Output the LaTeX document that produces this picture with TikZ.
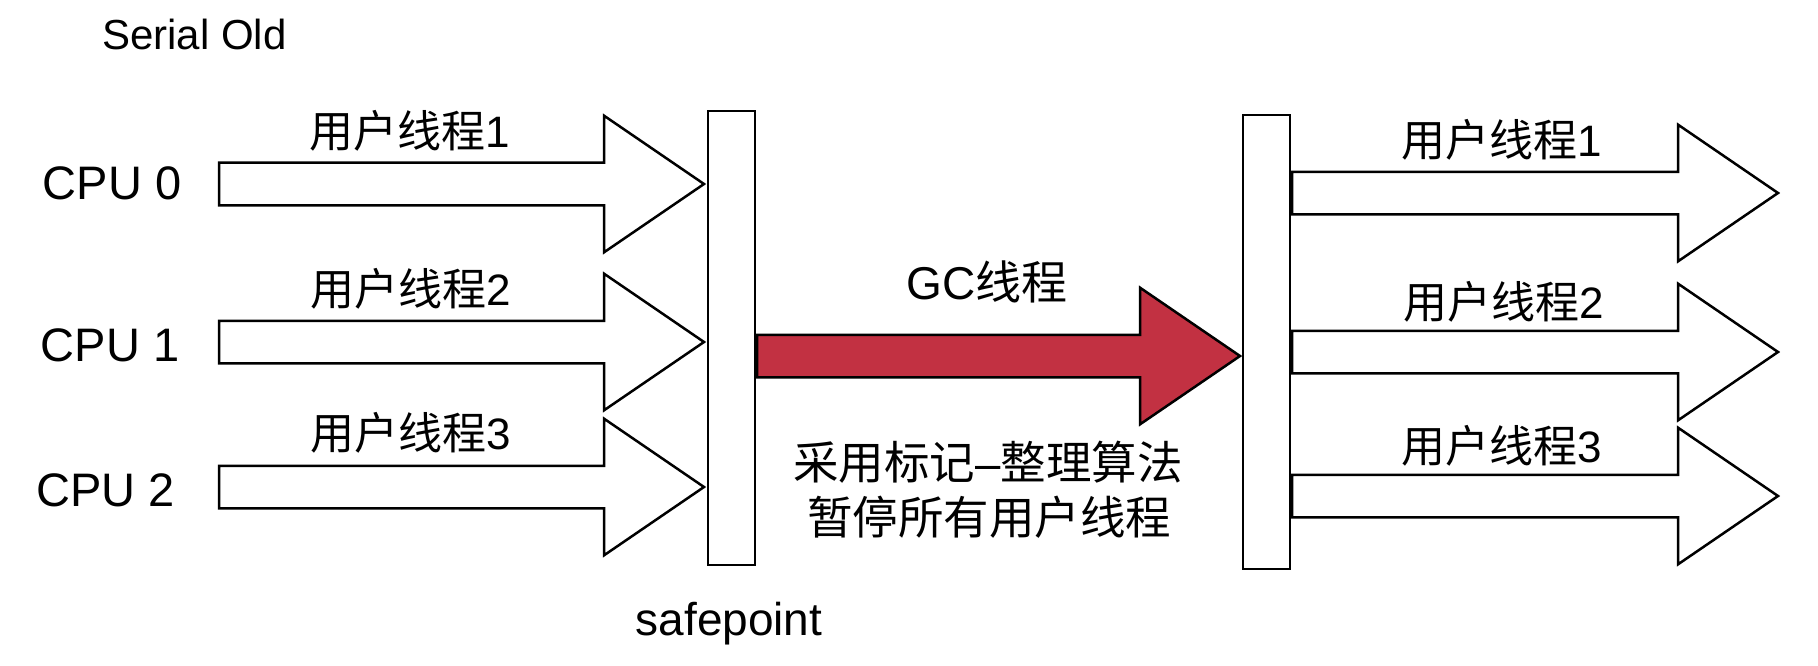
\documentclass[tikz,border=0pt]{standalone}
\usepackage{fontspec}
\setmainfont{Liberation Sans}
\newfontfamily\cjk{Noto Sans CJK SC}
\usepackage{tikz}
\usetikzlibrary{shapes.arrows}
\definecolor{gcred}{RGB}{194,49,66}

\begin{document}
\begin{tikzpicture}[x=1pt, y=-1pt,
        thread/.style={single arrow, draw, line width=2.5pt, fill=white, inner xsep=0pt, inner ysep=20pt,
            outer sep=0pt, minimum height=485pt, single arrow head extend=47pt,
            single arrow tip angle=68.7, anchor=tail},
        bar/.style={draw, line width=2.5pt, fill=white, inner sep=0pt, outer sep=0pt,
            minimum width=47pt, minimum height=454pt},
        lbl/.style={anchor=base, inner sep=0pt, font=\fontsize{44}{52}\selectfont}]
        \useasboundingbox (0,0) rectangle (1818,666);

        % Draw the title
            \node[lbl, font=\fontsize{42}{50}\selectfont] (serial) at (194.5,50) {Serial Old};

        % Draw the CPUs
            \node[lbl, font=\fontsize{47}{54}\selectfont] (cpu0) at (112,200) {CPU 0};
            \node[lbl, font=\fontsize{47}{54}\selectfont] (cpu1) at (110,361) {CPU 1};
            \node[lbl, font=\fontsize{47}{54}\selectfont] (cpu2) at (105.5,506) {CPU 2};

        % Draw the user threads before the safepoint
            \node[thread] (t0) at (219,184) {};
            \node[thread] (t1) at (219,342) {};
            \node[thread] (t2) at (219,487) {};
            \node[lbl] (tl0) at (409.5,148) {{\cjk 用户线程}1};
            \node[lbl] (tl1) at (410.5,305) {{\cjk 用户线程}2};
            \node[lbl] (tl2) at (410.5,449) {{\cjk 用户线程}3};

        % Draw the bars
            \node[bar] (sp) at (731.5,338) {};
            \node[bar] (rbar) at (1266.5,342) {};
            \node[lbl, font=\fontsize{46}{54}\selectfont] (splbl) at (729,635) {safepoint};

        % Draw the GC thread
            \node[thread, fill=gcred, minimum height=483pt] (gc) at (757,356) {};
            \node[lbl, font=\fontsize{46}{54}\selectfont] (gclbl) at (987,299) {GC{\cjk 线程}};
            \node[lbl, font=\fontsize{45.5}{52}\selectfont] (note1) at (988,479) {{\cjk 采用标记}–{\cjk 整理算法}};
            \node[lbl, font=\fontsize{45.5}{52}\selectfont] (note2) at (989,534) {\cjk 暂停所有用户线程};

        % Draw the user threads after the safepoint
            \node[thread, minimum height=486pt] (r0) at (1292,193) {};
            \node[thread, minimum height=486pt] (r1) at (1292,352) {};
            \node[thread, minimum height=486pt] (r2) at (1292,496) {};
            \node[lbl] (rl0) at (1502,157) {{\cjk 用户线程}1};
            \node[lbl] (rl1) at (1504,318) {{\cjk 用户线程}2};
            \node[lbl] (rl2) at (1502,462) {{\cjk 用户线程}3};
    \end{tikzpicture}
\end{document}
